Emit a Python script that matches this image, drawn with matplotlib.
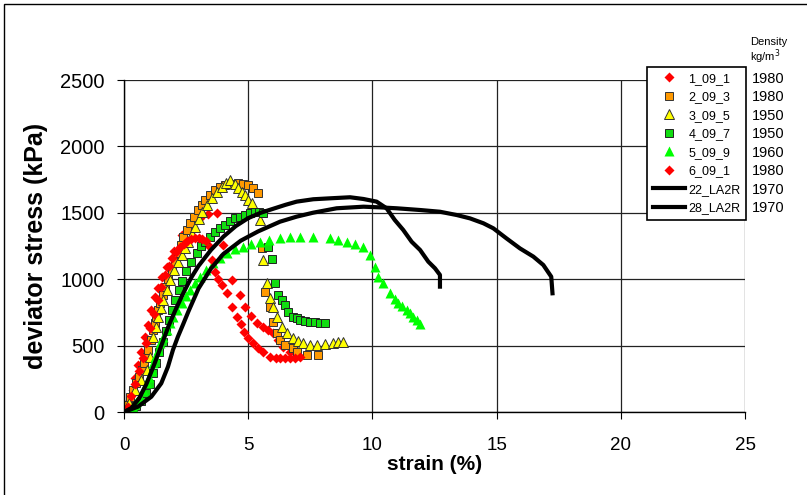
import matplotlib
matplotlib.use("Agg")
import matplotlib.pyplot as plt
from matplotlib.patches import Rectangle

plt.rcParams['font.family'] = ['Liberation Sans', 'DejaVu Sans']

# --- data (strain %, deviator stress kPa) ---
x_1_09_1 = [0.03, 0.23, 0.36, 0.43, 0.58, 0.7, 0.83, 0.97, 1.1, 1.25, 1.38, 1.52, 1.72, 2.0,
            2.35, 2.7, 3.05, 3.4, 3.73, 4.0, 4.33, 4.67, 4.87, 5.1, 5.34, 5.6, 5.8, 6.0, 6.2,
            6.4, 6.7, 7.0]
y_1_09_1 = [15, 90, 166, 256, 354, 454, 567, 655, 770, 868, 933, 1019, 1094, 1210,
            1330, 1410, 1460, 1490, 1496, 1257, 994, 881, 793, 720, 668, 640, 615, 593, 545,
            492, 450, 430]

x_2_09_3 = [0, 0.12, 0.24, 0.37, 0.5, 0.6, 0.71, 0.81, 0.91, 0.98, 1.08, 1.17, 1.24, 1.3,
            1.38, 1.45, 1.55, 1.65, 1.78, 1.92, 2.05, 2.18, 2.28, 2.38, 2.52, 2.66, 2.82,
            2.98, 3.12, 3.26, 3.45, 3.66, 3.86, 4.07, 4.33, 4.6, 4.8, 5.0, 5.2, 5.4, 5.54,
            5.68, 5.88, 6.0, 6.15, 6.28, 6.48, 6.8, 6.95, 7.35, 7.8]
y_2_09_3 = [0, 50, 115, 165, 218, 265, 316, 366, 416, 470, 545, 617, 670, 718,
            770, 820, 880, 943, 1005, 1069, 1133, 1197, 1260, 1320, 1372, 1422, 1472,
            1521, 1560, 1597, 1637, 1672, 1695, 1709, 1720, 1724, 1720, 1709, 1685, 1650, 1235,
            906, 793, 680, 595, 542, 504, 480, 454, 429, 430]

x_3_09_5 = [0, 0.2, 0.44, 0.68, 0.91, 1.05, 1.18, 1.28, 1.38, 1.48, 1.58, 1.72, 1.85, 2.0,
            2.16, 2.32, 2.46, 2.59, 2.72, 2.86, 3.0, 3.13, 3.33, 3.53, 3.73, 3.93, 4.1, 4.27,
            4.45, 4.6, 4.75, 4.87, 5.0, 5.14, 5.47, 5.6, 5.74, 5.88, 6.0, 6.15, 6.35, 6.55,
            6.8, 7.0, 7.2, 7.5, 7.76, 8.1, 8.4, 8.6, 8.8]
y_3_09_5 = [0, 70, 166, 240, 316, 416, 567, 640, 718, 780, 843, 920, 994, 1070,
            1130, 1182, 1235, 1282, 1340, 1395, 1450, 1508, 1560, 1609, 1655, 1696, 1725, 1747,
            1720, 1684, 1660, 1634, 1600, 1571, 1446, 1144, 971, 858, 790, 718, 642, 595,
            557, 535, 520, 508, 504, 510, 520, 525, 529]

x_4_09_7 = [0, 0.3, 0.5, 0.7, 0.9, 1.05, 1.18, 1.3, 1.42, 1.55, 1.68, 1.8, 1.92, 2.05, 2.2,
            2.35, 2.5, 2.7, 2.93, 3.1, 3.26, 3.45, 3.66, 3.86, 4.07, 4.27, 4.47, 4.67, 4.87,
            5.07, 5.27, 5.45, 5.6, 5.81, 5.95, 6.08, 6.2, 6.35, 6.48, 6.61, 6.8, 6.95, 7.08,
            7.3, 7.49, 7.7, 7.9, 8.09]
y_4_09_7 = [0, 20, 45, 80, 140, 210, 290, 370, 450, 530, 610, 690, 770, 845, 920,
            990, 1060, 1130, 1200, 1250, 1282, 1320, 1358, 1385, 1408, 1435, 1458, 1472, 1483,
            1495, 1508, 1508, 1500, 1245, 1150, 969, 880, 843, 806, 755, 718, 705, 693,
            686, 680, 676, 673, 672]

x_5_09_9 = [0.04, 0.2, 0.38, 0.5, 0.64, 0.78, 0.91, 1.0, 1.11, 1.18, 1.25, 1.35, 1.45, 1.58,
            1.72, 1.85, 1.98, 2.15, 2.32, 2.5, 2.66, 2.85, 3.06, 3.3, 3.6, 3.85, 4.13, 4.45,
            4.8, 5.1, 5.47, 5.85, 6.28, 6.7, 7.08, 7.6, 8.3, 8.6, 8.97, 9.3, 9.64, 9.9, 10.1,
            10.24, 10.44, 10.7, 10.9, 11.04, 11.2, 11.38, 11.5, 11.65, 11.8, 11.92]
y_5_09_9 = [0, 20, 40, 75, 115, 165, 216, 265, 316, 366, 416, 467, 517, 567,
            617, 668, 718, 768, 818, 870, 919, 970, 1019, 1070, 1120, 1160, 1195, 1225,
            1245, 1265, 1282, 1295, 1307, 1315, 1320, 1318, 1307, 1295, 1282, 1265, 1245, 1182, 1094,
            1019, 969, 894, 850, 818, 795, 768, 745, 718, 690, 665]

x_6_09_1 = [0.0, 0.15, 0.3, 0.45, 0.6, 0.75, 0.9, 1.05, 1.2, 1.35, 1.5, 1.65, 1.8, 1.95, 2.1,
            2.25, 2.4, 2.55, 2.7, 2.85, 3.0, 3.15, 3.3, 3.45, 3.53, 3.66, 3.8, 3.93, 4.13, 4.33,
            4.53, 4.7, 4.85, 5.0, 5.2, 5.4, 5.6, 5.88, 6.1, 6.3, 6.5, 6.7, 6.9, 7.1]
y_6_09_1 = [0, 40, 120, 210, 310, 410, 520, 630, 740, 840, 940, 1030, 1100, 1160, 1205,
            1240, 1265, 1285, 1300, 1308, 1310, 1305, 1290, 1240, 1144, 1057, 1000, 956, 896, 793,
            718, 660, 600, 560, 520, 480, 450, 417, 410, 405, 405, 406, 410, 415]

x_22_LA2R = [0, 0.3, 0.6, 0.9, 1.2, 1.5, 1.8, 2.1, 2.4, 2.7, 3.0, 3.5, 4.0, 4.5, 5.0, 5.5,
             6.0, 6.5, 6.95, 7.62, 8.29, 9.1, 9.64, 10.17, 10.57, 10.9, 11.24, 11.58, 11.92, 12.25,
             12.52, 12.72, 12.72]
y_22_LA2R = [0, 30, 100, 210, 350, 500, 650, 780, 900, 1010, 1100, 1220, 1320, 1400, 1460, 1500,
             1530, 1560, 1584, 1602, 1609, 1617, 1604, 1584, 1534, 1446, 1371, 1282, 1220, 1132,
             1082, 1032, 944]

x_28_LA2R = [0, 0.56, 1.1, 1.5, 1.77, 1.97, 2.17, 2.38, 2.6, 3.0, 3.5, 4.0, 4.7, 5.4, 6.28,
             6.95, 7.62, 8.56, 9.64, 10.3, 10.98, 11.92, 12.72, 13.4, 13.93, 14.47, 14.87, 15.4,
             15.94, 16.48, 16.88, 17.2, 17.25]
y_28_LA2R = [0, 40, 115, 216, 341, 467, 567, 660, 760, 930, 1080, 1190, 1290, 1360, 1433,
             1471, 1501, 1534, 1546, 1541, 1534, 1521, 1508, 1483, 1458, 1421, 1383, 1307,
             1232, 1170, 1107, 1019, 894]

densities = ['1980', '1980', '1950', '1950', '1960', '1980', '1970', '1970']

fig = plt.figure(figsize=(8.07, 4.95), dpi=100)
ax = fig.add_axes([124 / 807, 83 / 495, 621 / 807, 332 / 495])

# outer frame of the chart area (runs off the right and bottom edges)
fig.patches.append(Rectangle((4 / 807, -0.05), 1.1, 1 - 4 / 495 + 0.05,
                             transform=fig.transFigure, fill=False,
                             edgecolor='black', linewidth=1.0))

ms = 6
ax.plot(x_1_09_1, y_1_09_1, 'D', color='#ff0000', ms=ms - 0.5, mec='none', label='1_09_1')
ax.plot(x_2_09_3, y_2_09_3, 's', color='#ff9900', ms=ms, mec='#333333', mew=0.7, label='2_09_3')
ax.plot(x_3_09_5, y_3_09_5, '^', color='#ffff00', ms=ms + 0.5, mec='#333333', mew=0.7, label='3_09_5')
ax.plot(x_4_09_7, y_4_09_7, 's', color='#11dd11', ms=ms, mec='#222222', mew=0.7, label='4_09_7')
ax.plot(x_5_09_9, y_5_09_9, '^', color='#00ff00', ms=ms + 0.5, mec='none', label='5_09_9')
ax.plot(x_6_09_1, y_6_09_1, 'D', color='#ff0000', ms=ms - 0.5, mec='none', label='6_09_1')
ax.plot(x_22_LA2R, y_22_LA2R, '-', color='black', lw=3, label='22_LA2R')
ax.plot(x_28_LA2R, y_28_LA2R, '-', color='black', lw=3, label='28_LA2R')

ax.set_xlim(0, 25)
ax.set_ylim(0, 2500)
ax.set_xticks([0, 5, 10, 15, 20, 25])
ax.set_yticks([0, 500, 1000, 1500, 2000, 2500])
ax.grid(True, color='#222222', linewidth=0.9)
ax.set_axisbelow(True)
for side in ['top', 'right']:
    ax.spines[side].set_visible(False)
for side in ['left', 'bottom']:
    ax.spines[side].set_linewidth(1.0)
ax.tick_params(axis='x', direction='out', length=5, pad=13, labelsize=13.5)
ax.tick_params(axis='y', direction='out', length=5, pad=9, labelsize=14.5)
ax.set_xlabel('strain (%)', fontsize=15, fontweight='bold', labelpad=1)
ax.set_ylabel('deviator stress (kPa)', fontsize=18, fontweight='bold', labelpad=9)

leg = ax.legend(loc='upper left', bbox_to_anchor=(647 / 807, 1 - 67 / 495),
                bbox_transform=fig.transFigure, fontsize=9, frameon=True, fancybox=False,
                edgecolor='black', framealpha=1, labelspacing=0.52, handlelength=2.6,
                handletextpad=0.25, borderpad=0.45, borderaxespad=0)
leg.get_frame().set_linewidth(1.2)

# density column, aligned with legend rows
fig.canvas.draw()
inv = fig.transFigure.inverted()
for txt, d in zip(leg.get_texts(), densities):
    bb = txt.get_window_extent()
    yc = inv.transform((0, (bb.y0 + bb.y1) / 2))[1]
    fig.text(752 / 807, yc, d, fontsize=10.5, va='center', ha='left')
fig.text(750 / 807, 1 - 42 / 495, 'Density', fontsize=8, va='center', ha='left')
fig.text(750 / 807, 1 - 57 / 495, 'kg/m$^3$', fontsize=8, va='center', ha='left')

fig.savefig('out.png', dpi=100)
